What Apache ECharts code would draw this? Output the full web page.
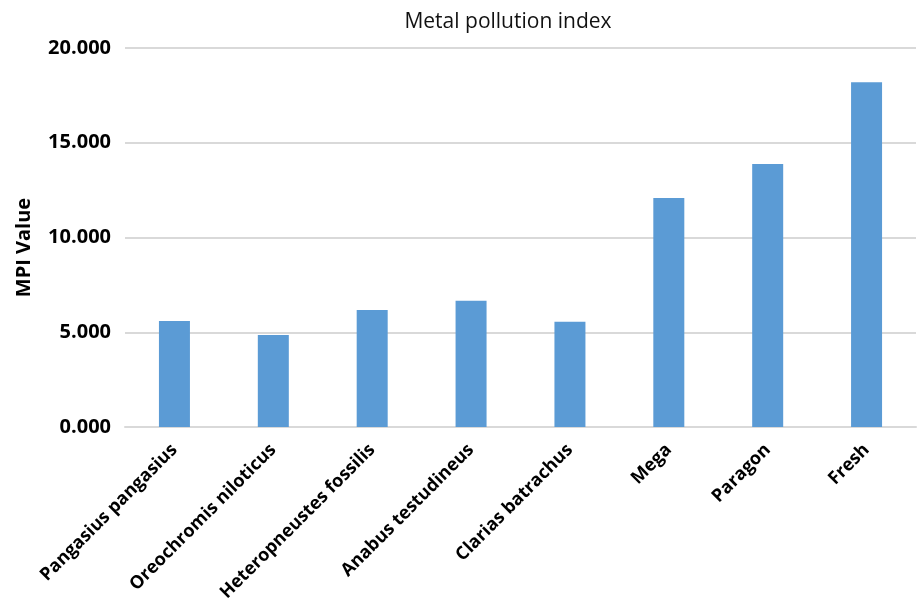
<!DOCTYPE html>
<html>
<head>
<meta charset="utf-8">
<script src="https://cdn.jsdelivr.net/npm/echarts@6/dist/echarts.min.js"></script>
<style>
  html, body { margin: 0; padding: 0; background: #fff; }
  #chart { width: 919px; height: 608px; }
</style>
</head>
<body>
<div id="chart"></div>
<script>
// Species / samples on the category axis
const categories = [
  'Pangasius pangasius',
  'Oreochromis niloticus',
  'Heteropneustes fossilis',
  'Anabus testudineus',
  'Clarias batrachus',
  'Mega',
  'Paragon',
  'Fresh'
];
// Metal pollution index for each category
const mpiValues = [5.60, 4.86, 6.18, 6.66, 5.55, 12.08, 13.88, 18.19];
// Value axis ticks
const yTicks = [0, 5, 10, 15, 20];

const fontFamily = '"Open Sans", "Noto Sans", sans-serif';

const chart = echarts.init(document.getElementById('chart'), null, { renderer: 'canvas' });
chart.setOption({
  animation: false,
  backgroundColor: '#ffffff',
  title: {
    text: 'Metal pollution index',
    left: 503,
    textAlign: 'center',
    top: 7,
    textStyle: { fontFamily, fontSize: 21, fontWeight: 'normal', color: '#111' }
  },
  grid: { left: 125, right: 3, top: 48, bottom: 181, containLabel: false },
  xAxis: {
    type: 'category',
    data: categories,
    axisLine: { show: true, lineStyle: { color: '#d9d9d9', width: 2 } },
    axisTick: { show: false },
    axisLabel: {
      interval: 0,
      rotate: 45,
      margin: 20,
      fontFamily,
      fontSize: 18,
      fontWeight: 'bold',
      color: '#000'
    }
  },
  yAxis: {
    type: 'value',
    min: yTicks[0],
    max: yTicks[yTicks.length - 1],
    interval: 5,
    name: 'MPI Value',
    nameLocation: 'middle',
    nameGap: 91,
    nameTextStyle: {
      fontFamily, fontSize: 20, fontWeight: 'bold', color: '#000',
      padding: [0, 20, 0, 0]
    },
    axisLine: { show: false },
    axisTick: { show: false },
    splitLine: { lineStyle: { color: '#d9d9d9', width: 2 } },
    axisLabel: {
      margin: 14,
      fontFamily,
      fontSize: 20,
      fontWeight: 'bold',
      color: '#000',
      formatter: v => v.toFixed(3)
    }
  },
  series: [{
    type: 'bar',
    data: mpiValues,
    barWidth: 31,
    itemStyle: { color: '#5b9bd5' }
  }]
});
</script>
</body>
</html>
